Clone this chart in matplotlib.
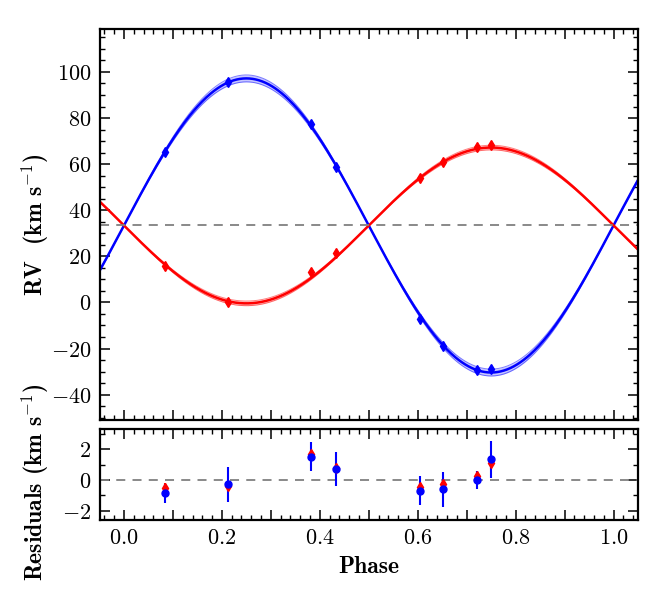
import numpy as np
import matplotlib
matplotlib.use("Agg")
import matplotlib.pyplot as plt
from matplotlib.ticker import MultipleLocator, FuncFormatter

# RV curve of a double-lined binary
phase = [0.084, 0.213, 0.383, 0.434, 0.605, 0.652, 0.722, 0.749]
rv_blue = [65.4, 95.7, 77.4, 58.9, -7.0, -19.0, -29.1, -28.7]
rv_red = [15.9, 0.0, 13.0, 21.4, 53.8, 61.0, 67.3, 68.3]
err_blue = [0.6, 1.14, 0.93, 1.1, 0.94, 1.16, 0.6, 1.22]
err_red = [0.35, 0.35, 0.3, 0.35, 0.3, 0.35, 0.3, 0.35]
res_blue = [-0.87, -0.26, 1.52, 0.72, -0.69, -0.61, 0.0, 1.34]
res_red = [-0.54, -0.39, 1.68, 0.76, -0.48, -0.28, 0.26, 1.08]

# orbit model (circular), parameters estimated from the figure
gamma = 33.4
K1, dK1 = 63.8, 1.5
K2, dK2 = 33.8, 1.0

plt.rcParams['mathtext.fontset'] = 'cm'
FS = 16
BOLD = 'cmb10'

def bold_fmt(fmt, every=None):
    def f(v, pos):
        if every is not None and int(round(v / every[0])) % every[1] != 0:
            return ''
        s = fmt % v
        if s.startswith('-'):
            s = '-' + s[1:]
        if float(s) == 0:
            s = s.lstrip('-')
        return r'$\mathbf{%s}$' % s
    return FuncFormatter(f)

def style_axis(ax):
    for sp in ax.spines.values():
        sp.set_linewidth(1.6)
    ax.tick_params(which='both', direction='in', top=True, right=True, labelsize=FS)
    ax.tick_params(which='major', length=7, width=1.1, pad=6)
    ax.tick_params(which='minor', length=3.5, width=1.0)
    ax.xaxis.set_major_locator(MultipleLocator(0.1))
    ax.xaxis.set_minor_locator(MultipleLocator(0.02))
    ax.set_xlim(-0.05, 1.05)

W, H = 664, 591
fig = plt.figure(figsize=(W / 100, H / 100), dpi=100)
ax1 = fig.add_axes([99.5 / W, 1 - 420 / H, 538.5 / W, (420 - 29.3) / H])
ax2 = fig.add_axes([99.5 / W, 1 - 520 / H, 538.5 / W, (520 - 429.3) / H])

x = np.linspace(-0.05, 1.05, 500)
s = np.sin(2 * np.pi * x)

# model curves with uncertainty band
for K, dK, sign, col in [(K1, dK1, 1, '#0000ff'), (K2, dK2, -1, '#ff0000')]:
    lo = gamma + sign * (K - dK) * s
    hi = gamma + sign * (K + dK) * s
    ax1.fill_between(x, lo, hi, color=col, alpha=0.22, lw=0)
    ax1.plot(x, lo, color=col, lw=0.7, alpha=0.5)
    ax1.plot(x, hi, color=col, lw=0.7, alpha=0.5)
    ax1.plot(x, gamma + sign * K * s, color=col, lw=1.8)

ax1.axhline(gamma, color='#808080', lw=1.3, ls=(0, (5, 4)))
ax1.errorbar(phase, rv_red, yerr=err_red, fmt='d', color='#ff0000', ms=5, elinewidth=1.5, capsize=0)
ax1.errorbar(phase, rv_blue, yerr=err_blue, fmt='d', color='#0000ff', ms=5, elinewidth=1.5, capsize=0)

style_axis(ax1)
ax1.set_ylim(-51, 118.5)
ax1.yaxis.set_major_locator(MultipleLocator(20))
ax1.yaxis.set_minor_locator(MultipleLocator(5))
ax1.yaxis.set_major_formatter(bold_fmt('%d'))
ax1.xaxis.set_major_formatter(FuncFormatter(lambda v, p: ''))

# residuals
ax2.axhline(0, color='#808080', lw=1.3, ls=(0, (5, 4)))
ax2.errorbar(phase, res_red, yerr=err_red, fmt='d', color='#ff0000', ms=5, elinewidth=1.5, capsize=0)
ax2.errorbar(phase, res_blue, yerr=err_blue, fmt='o', color='#0000ff', ms=5, elinewidth=1.5, capsize=0)

style_axis(ax2)
ax2.set_ylim(-2.6, 3.3)
ax2.yaxis.set_major_locator(MultipleLocator(2))
ax2.yaxis.set_minor_locator(MultipleLocator(1))
ax2.yaxis.set_major_formatter(bold_fmt('%d'))
ax2.xaxis.set_major_formatter(bold_fmt('%.1f', every=(0.1, 2)))

fig.text(35 / W, 1 - 225 / H, r'RV  (km s$^{-1}$)', rotation=90, fontsize=17,
         family=BOLD, ha='center', va='center')
fig.text(35 / W, 1 - 482 / H, r'Residuals (km s$^{-1}$)', rotation=90, fontsize=17,
         family=BOLD, ha='center', va='center')
fig.text(369 / W, 1 - 567 / H, 'Phase', fontsize=17, family=BOLD, ha='center', va='center')

fig.savefig('out.png', dpi=100)
